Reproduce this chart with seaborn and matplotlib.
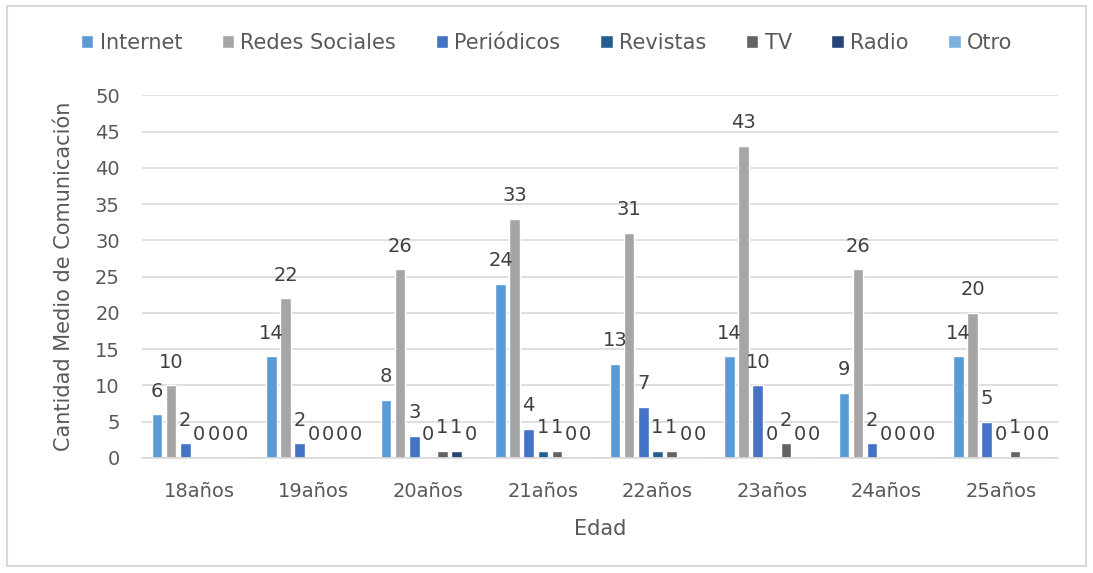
import pandas as pd
import matplotlib
matplotlib.use('Agg')
import matplotlib.pyplot as plt
import seaborn as sns
from matplotlib.patches import Rectangle

# -----------------------------
# Data
# -----------------------------
edades = ['18años', '19años', '20años', '21años', '22años', '23años', '24años', '25años']
medios = ['Internet', 'Redes Sociales', 'Periódicos', 'Revistas', 'TV', 'Radio', 'Otro']

internet = [6, 14, 8, 24, 13, 14, 9, 14]
redes_sociales = [10, 22, 26, 33, 31, 43, 26, 20]
periodicos = [2, 2, 3, 4, 7, 10, 2, 5]
revistas = [0, 0, 0, 1, 1, 0, 0, 0]
tv = [0, 0, 1, 1, 1, 2, 0, 1]
radio = [0, 0, 1, 0, 0, 0, 0, 0]
otro = [0, 0, 0, 0, 0, 0, 0, 0]

colores = ['#5B9BD5', '#A5A5A5', '#4472C4', '#255E91', '#636363', '#264478', '#7CAFDD']

series = [internet, redes_sociales, periodicos, revistas, tv, radio, otro]
rows = []
for medio, vals in zip(medios, series):
    for edad, v in zip(edades, vals):
        rows.append({'Edad': edad, 'Medio': medio, 'Cantidad': v})
df = pd.DataFrame(rows)

# -----------------------------
# Plot
# -----------------------------
sns.set_theme(style='white')
plt.rcParams['font.family'] = ['DejaVu Sans']

fig = plt.figure(figsize=(10.93, 5.73), dpi=100)
ax = fig.add_axes([0.130, 0.2007, 0.838, 0.633])

sns.barplot(data=df, x='Edad', y='Cantidad', hue='Medio', order=edades,
            hue_order=medios, palette=colores, width=0.86, gap=0.25,
            saturation=1, ax=ax, legend=True)

for cont in ax.containers:
    ax.bar_label(cont, fmt='%d', padding=10, fontsize=14, color='#404040')

ax.set_ylim(0, 50)
ax.set_yticks(range(0, 51, 5))
ax.yaxis.grid(True, color='#D9D9D9', linewidth=1.2)
ax.set_axisbelow(True)
for s in ['top', 'right', 'left']:
    ax.spines[s].set_visible(False)
ax.spines['bottom'].set_color('#D9D9D9')
ax.tick_params(axis='y', length=0, labelsize=14, colors='#595959', pad=16)
ax.tick_params(axis='x', length=0, labelsize=14, colors='#595959', pad=17)
ax.set_xlabel('Edad', fontsize=15, color='#595959', labelpad=13)
ax.set_ylabel('Cantidad Medio de Comunicación', fontsize=15, color='#595959', labelpad=15)

handles, labels = ax.get_legend_handles_labels()
ax.legend_.remove()
fig.legend(handles, labels, loc='center', bbox_to_anchor=(0.5, 0.925), ncol=7,
           frameon=False, fontsize=15, handlelength=0.6, handleheight=0.6,
           handletextpad=0.3, columnspacing=1.9, labelcolor='#595959')

fig.patches.append(Rectangle((0.006, 0.012), 0.988, 0.978, transform=fig.transFigure,
                             fill=False, edgecolor='#D9D9D9', linewidth=1.5))

fig.savefig('out.png', dpi=100)
